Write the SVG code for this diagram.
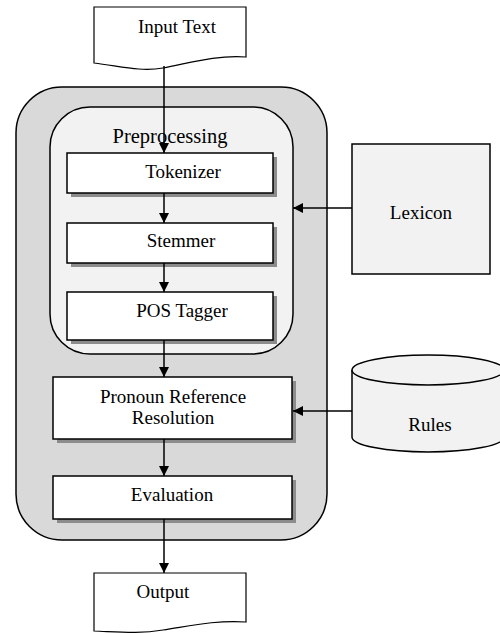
<svg xmlns="http://www.w3.org/2000/svg" width="500" height="633" viewBox="0 0 500 633">
<defs>
<marker id="ah" markerWidth="10" markerHeight="10" refX="10" refY="5" orient="auto" markerUnits="userSpaceOnUse">
<path d="M0,0 L10,5 L0,10 Z" fill="#000"/>
</marker>
</defs>
<style>
text{font-family:"Liberation Serif","Times New Roman",serif;font-size:19px;fill:#000;text-anchor:middle}
.box{fill:#fff;stroke:#000;stroke-width:1.5}
.sh{fill:#8c8c8c}
.con{stroke:#000;stroke-width:1.5;fill:none}
.doc{fill:#fff;stroke:#000;stroke-width:1.2}
</style>
<rect width="500" height="633" fill="#fff"/>
<g id="system">
<rect x="16" y="87" width="311" height="453" rx="46" ry="46" fill="#d9d9d9" stroke="#000" stroke-width="1.5"/>
</g>
<g id="preprocessing">
<rect x="50" y="107" width="243" height="247" rx="40" ry="40" fill="#f2f2f2" stroke="#000" stroke-width="1.5"/>
<text x="170" y="143" style="font-size:20.5px">Preprocessing</text>
</g>
<g id="input">
<path class="doc" d="M94,7 L246,7 L246,57 C215,55 190,63 163,68 C140,72 120,66 94,63 Z"/>
<text x="177" y="33">Input Text</text>
</g>
<g id="tokenizer">
<rect class="sh" x="71" y="157" width="206" height="40"/>
<rect class="box" x="67" y="153" width="206" height="40"/>
<text x="183" y="178">Tokenizer</text>
</g>
<g id="stemmer">
<rect class="sh" x="71" y="227" width="206" height="40"/>
<rect class="box" x="67" y="223" width="206" height="40"/>
<text x="181" y="247">Stemmer</text>
</g>
<g id="postagger">
<rect class="sh" x="71" y="296" width="206" height="48"/>
<rect class="box" x="67" y="292" width="206" height="48"/>
<text x="182" y="317">POS Tagger</text>
</g>
<g id="pronoun">
<rect class="sh" x="57" y="381" width="239" height="62"/>
<rect class="box" x="53" y="377" width="239" height="62"/>
<text x="173" y="403">Pronoun Reference</text>
<text x="173" y="424">Resolution</text>
</g>
<g id="evaluation">
<rect class="sh" x="57" y="480" width="239" height="43"/>
<rect class="box" x="53" y="476" width="239" height="43"/>
<text x="172" y="501">Evaluation</text>
</g>
<g id="output">
<path class="doc" d="M94,573 L246,573 L246,622 C215,620 190,626 163,630 C140,634 120,632 94,631 Z"/>
<text x="163" y="598">Output</text>
</g>
<g id="lexicon">
<rect x="352" y="144" width="138" height="130" fill="#f2f2f2" stroke="#000" stroke-width="1.5"/>
<text x="421" y="219">Lexicon</text>
</g>
<g id="rules">
<path d="M352,370 L352,437 A76,15 0 0 0 504,437 L504,370" fill="#f2f2f2" stroke="#000" stroke-width="1.5"/>
<ellipse cx="428" cy="370" rx="76" ry="15" fill="#f2f2f2" stroke="#000" stroke-width="1.5"/>
<text x="430" y="431">Rules</text>
</g>
<g id="connectors">
<line class="con" x1="164" y1="66" x2="164" y2="153" marker-end="url(#ah)"/>
<line class="con" x1="164" y1="193" x2="164" y2="223" marker-end="url(#ah)"/>
<line class="con" x1="164" y1="263" x2="164" y2="292" marker-end="url(#ah)"/>
<line class="con" x1="164" y1="340" x2="164" y2="377" marker-end="url(#ah)"/>
<line class="con" x1="164" y1="439" x2="164" y2="476" marker-end="url(#ah)"/>
<line class="con" x1="164" y1="519" x2="164" y2="573" marker-end="url(#ah)"/>
<line class="con" x1="352" y1="208" x2="293" y2="208" marker-end="url(#ah)"/>
<line class="con" x1="352" y1="411" x2="293" y2="411" marker-end="url(#ah)"/>
</g>
</svg>
